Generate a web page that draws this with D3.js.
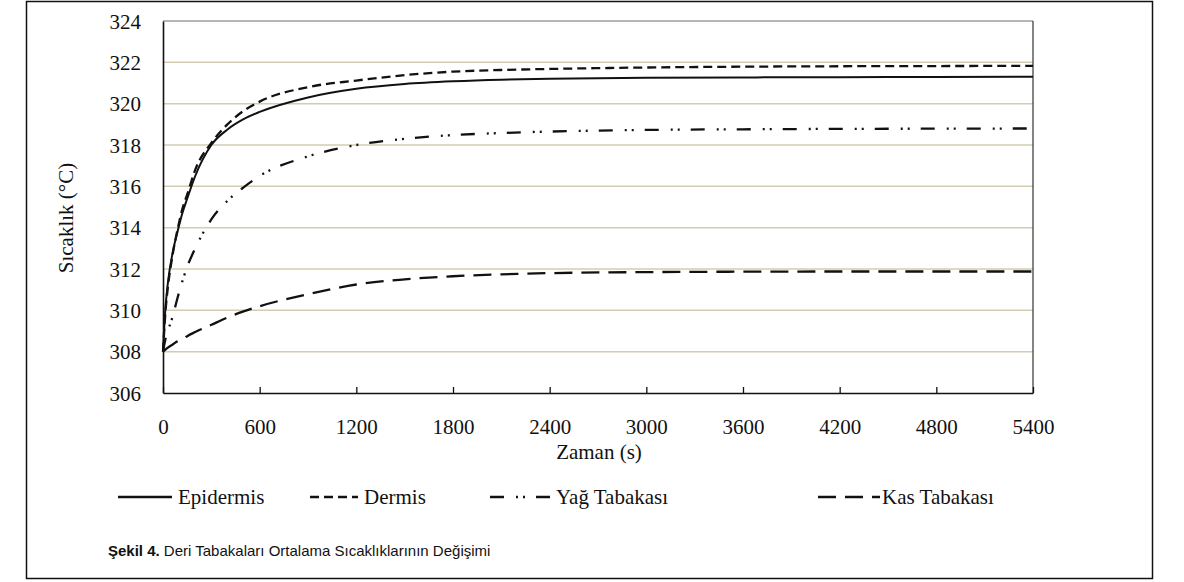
<!DOCTYPE html>
<html>
<head>
<meta charset="UTF-8">
<title>Deri tabakaları sıcaklık</title>
<script src="https://d3js.org/d3.v7.min.js"></script>
<style>
    body { margin: 0; background: #fff; }
    svg text { font-family: "Liberation Serif", "Times New Roman", serif; fill: #111; }
    .caption { font-family: "Liberation Sans Narrow", "Arial Narrow", "Liberation Sans", sans-serif; font-size: 15px; }
</style>
</head>
<body>
<svg id="chart" width="1184" height="582"></svg>
<script>
// data
var times     = [0, 15, 30, 60, 90, 120, 150, 200, 300, 400, 500, 600, 900, 1200, 1500, 1800, 2100, 2400, 3000, 3600, 4200, 4800, 5400];
var epidermis = [308, 310.1, 311.3, 312.8, 313.8, 314.7, 315.4, 316.5, 318.0, 318.75, 319.25, 319.6, 320.3, 320.72, 320.95, 321.08, 321.16, 321.2, 321.25, 321.27, 321.28, 321.29, 321.3];
var dermis    = [308, 309.9, 311.1, 312.7, 313.9, 314.9, 315.6, 316.8, 318.1, 319.0, 319.65, 320.1, 320.8, 321.12, 321.38, 321.55, 321.63, 321.68, 321.75, 321.79, 321.81, 321.82, 321.83];
var yag       = [308, 308.6, 309.0, 309.7, 310.6, 311.4, 312.1, 313.0, 314.4, 315.3, 315.95, 316.5, 317.45, 318.0, 318.3, 318.48, 318.58, 318.65, 318.73, 318.76, 318.78, 318.79, 318.8];
var kas       = [308, 308.1, 308.2, 308.35, 308.5, 308.6, 308.75, 308.95, 309.3, 309.65, 309.95, 310.2, 310.78, 311.25, 311.5, 311.65, 311.74, 311.8, 311.85, 311.87, 311.88, 311.88, 311.88];

var xTicks = [0, 600, 1200, 1800, 2400, 3000, 3600, 4200, 4800, 5400];
var yTicks = [306, 308, 310, 312, 314, 316, 318, 320, 322, 324];
var seriesNames = ["Epidermis", "Dermis", "Yağ Tabakası", "Kas Tabakası"];
var dashes = ["none", "9,5", "14,12,2,5,2,11", "18,9"];

var svg = d3.select("#chart");
var plotL = 163, plotT = 21, plotR = 1033, plotB = 393;

var x = d3.scaleLinear().domain([0, 5400]).range([plotL, plotR]);
var y = d3.scaleLinear().domain([306, 324]).range([plotB, plotT]);

// outer frame
svg.append("rect").attr("x", 26.5).attr("y", 1.5).attr("width", 1126).attr("height", 577)
    .attr("fill", "none").attr("stroke", "#111").attr("stroke-width", 1.5);

// grid lines
svg.append("g").selectAll("line")
    .data(yTicks.filter(function (d) { return d > 306 && d < 324; }))
    .enter().append("line")
    .attr("x1", plotL).attr("x2", plotR)
    .attr("y1", function (d) { return y(d); }).attr("y2", function (d) { return y(d); })
    .attr("stroke", "#d3ccb2").attr("stroke-width", 1.5);

// top + right border of plot
svg.append("line").attr("x1", plotL).attr("x2", plotR).attr("y1", plotT).attr("y2", plotT)
    .attr("stroke", "#6e6e6e").attr("stroke-width", 1.2);
svg.append("line").attr("x1", plotR).attr("x2", plotR).attr("y1", plotT).attr("y2", plotB)
    .attr("stroke", "#333").attr("stroke-width", 1.2);

// axes
var xAxis = svg.append("g").attr("transform", "translate(0," + plotB + ")")
    .call(d3.axisBottom(x).tickValues(xTicks).tickFormat(d3.format("d"))
        .tickSizeInner(-6).tickSizeOuter(0).tickPadding(26));
var yAxis = svg.append("g").attr("transform", "translate(" + plotL + ",0)")
    .call(d3.axisLeft(y).tickValues(yTicks).tickFormat(d3.format("d"))
        .tickSize(0).tickPadding(22));

[xAxis, yAxis].forEach(function (a) {
    a.select(".domain").attr("stroke", "#111").attr("stroke-width", 1.6);
    a.selectAll(".tick line").attr("stroke", "#111").attr("stroke-width", 1.3);
    a.selectAll("text").style("font-family", "'Liberation Serif', 'Times New Roman', serif")
        .style("font-size", "21px").attr("fill", "#111");
});
yAxis.selectAll("text").attr("dy", "0.34em");

// axis titles
svg.append("text").attr("x", 599).attr("y", 459).attr("text-anchor", "middle")
    .style("font-size", "21px").text("Zaman (s)");
svg.append("text").attr("transform", "translate(73,218) rotate(-90)").attr("text-anchor", "middle")
    .style("font-size", "21px").text("Sıcaklık (°C)");

// lines
var allSeries = [epidermis, dermis, yag, kas];
var line = d3.line()
    .x(function (d, i) { return x(times[i]); })
    .y(function (d) { return y(d); })
    .curve(d3.curveMonotoneX);

svg.append("g").selectAll("path")
    .data(allSeries)
    .enter().append("path")
    .attr("d", line)
    .attr("fill", "none")
    .attr("stroke", "#111")
    .attr("stroke-width", function (d, i) { return i == 0 ? 2 : 2.3; })
    .attr("stroke-dasharray", function (d, i) { return dashes[i]; });

// legend
var legendX = [118, 310, 490, 818];
var legendLen = [54, 48, 60, 62];
var legendGap = [6, 6, 6, 2];
var leg = svg.append("g").selectAll("g")
    .data(seriesNames)
    .enter().append("g")
    .attr("transform", function (d, i) { return "translate(" + legendX[i] + ",497)"; });

leg.append("line")
    .attr("x1", 0).attr("x2", function (d, i) { return legendLen[i]; })
    .attr("y1", 0).attr("y2", 0)
    .attr("stroke", "#111").attr("stroke-width", 2.3)
    .attr("stroke-dasharray", function (d, i) { return dashes[i]; });

leg.append("text")
    .attr("x", function (d, i) { return legendLen[i] + legendGap[i]; })
    .attr("y", 7)
    .style("font-size", "21px")
    .text(function (d) { return d; });

// caption
var cap = svg.append("text").attr("class", "caption").attr("x", 108).attr("y", 556);
cap.append("tspan").style("font-weight", "bold").text("Şekil 4.");
cap.append("tspan").text(" Deri Tabakaları Ortalama Sıcaklıklarının Değişimi");
</script>
</body>
</html>
